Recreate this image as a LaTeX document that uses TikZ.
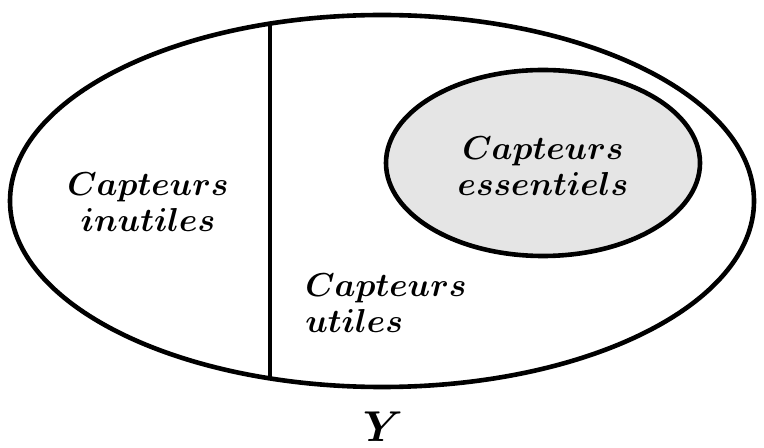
\documentclass[tikz,border=0pt]{standalone}
\usepackage{amsmath,amssymb}
\usepackage{tikz}
\usetikzlibrary{shapes.geometric,positioning,calc}

\begin{document}
\begin{tikzpicture}[x=0.5pt, y=-0.5pt,
  set/.style={ellipse, draw, line width=2.3pt, inner sep=0pt},
  lbl/.style={font=\fontsize{16}{19}\selectfont\boldmath, inner sep=0pt, scale=0.96}]
  \useasboundingbox (0,0) rectangle (764,448);

  % Y : all sensors
  \node[set, minimum width=372pt, minimum height=186pt] (setY) at (382, 201) {};
  \coordinate (cutTop) at (270, 23.6);
  \coordinate (cutBot) at (270, 378.4);
  \draw[line width=2.3pt] (cutTop) -- (cutBot);

  % essential sensors
  \node[set, fill=gray!20, minimum width=157pt, minimum height=93pt] (setEss) at (543, 163) {};

  \node[lbl, align=center] (inut) at (148, 202) {$Capteurs$\\$inutiles$};
  \node[lbl, align=left] (util) at (386, 303) {$Capteurs$\\$utiles$};
  \node[lbl, align=center] (ess) at (543, 166) {$Capteurs$\\$essentiels$};
  \node[lbl, scale=1.3] (nameY) at (383, 427) {$Y$};
\end{tikzpicture}
\end{document}
